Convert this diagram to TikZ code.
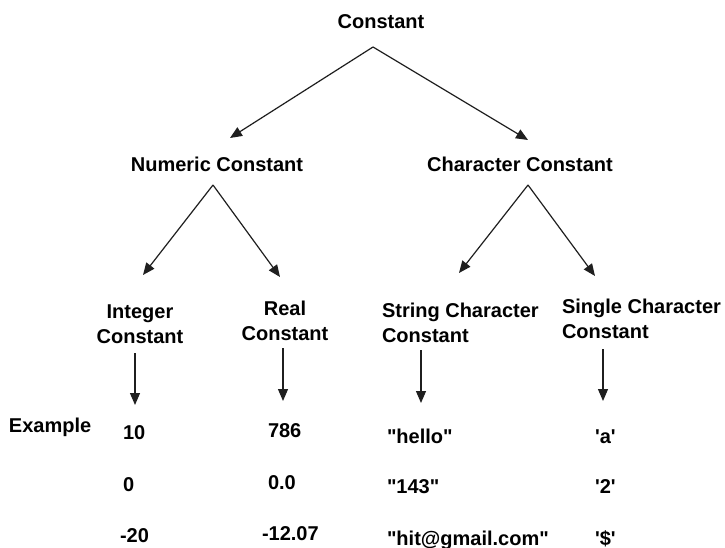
\documentclass[tikz,border=0pt]{standalone}
\usepackage{fontspec}
\setmainfont{Liberation Sans}
\usetikzlibrary{arrows.meta}
\begin{document}
\begin{tikzpicture}[x=1pt,y=-1pt,
  lbl/.style={font=\bfseries\fontsize{20}{25}\selectfont, inner sep=0pt, outer sep=0pt},
  head/.style={lbl, anchor=base},
  sub/.style={lbl, anchor=north},
  val/.style={lbl, anchor=base west},
  link/.style={line width=1.2pt, draw=black!88,
    -{Triangle[length=12pt,width=10pt]}},
]
\useasboundingbox (0,0) rectangle (725,548);

% tree headings
\node[head] (root) at (381,29) {Constant};
\node[head] (num)  at (217,172) {Numeric Constant};
\node[head] (chr)  at (520,172) {Character Constant};

\node[sub, align=center] (int)  at (140,305) {Integer\\Constant};
\node[sub, align=center] (real) at (285,301) {Real\\Constant};
\node[sub, align=left, anchor=north west] (str) at (382,303) {String Character\\Constant};
\node[sub, align=left, anchor=north west] (sgl) at (562,299) {Single Character\\Constant};

% fork points and arrow tips
\coordinate (rootfork) at (373,47);
\coordinate (numtip)   at (230,138);
\coordinate (chrtip)   at (528,140);
\coordinate (numfork)  at (213,185);
\coordinate (inttip)   at (143,275);
\coordinate (realtip)  at (280,277);
\coordinate (chrfork)  at (528,185);
\coordinate (strtip)   at (459,273);
\coordinate (sgltip)   at (595,276);

\draw[link] (rootfork) -- (numtip);
\draw[link] (rootfork) -- (chrtip);
\draw[link] (numfork) -- (inttip);
\draw[link] (numfork) -- (realtip);
\draw[link] (chrfork) -- (strtip);
\draw[link] (chrfork) -- (sgltip);

% vertical arrows down to the examples
\coordinate (intdown)  at (135,353);
\coordinate (intend)   at (135,405);
\coordinate (realdown) at (283,348);
\coordinate (realend)  at (283,401);
\coordinate (strdown)  at (421,350);
\coordinate (strend)   at (421,403);
\coordinate (sgldown)  at (603,349);
\coordinate (sglend)   at (603,401);

\draw[link] (intdown) -- (intend);
\draw[link] (realdown) -- (realend);
\draw[link] (strdown) -- (strend);
\draw[link] (sgldown) -- (sglend);

% examples
\node[val] (ex) at (9,432) {Example};

\node[val] (i1) at (123,439) {10};
\node[val] (i2) at (123,491) {0};
\node[val] (i3) at (120,542) {-20};

\node[val] (r1) at (268,437) {786};
\node[val] (r2) at (268,489) {0.0};
\node[val] (r3) at (262,540) {-12.07};

\node[val] (s1) at (387,443) {\textquotedbl hello\textquotedbl};
\node[val] (s2) at (387,493) {\textquotedbl 143\textquotedbl};
\node[val] (s3) at (387,545) {\textquotedbl hit@gmail.com\textquotedbl};

\node[val] (c1) at (595,443) {\textquotesingle a\textquotesingle};
\node[val] (c2) at (595,493) {\textquotesingle 2\textquotesingle};
\node[val] (c3) at (595,545) {\textquotesingle\$\textquotesingle};
\end{tikzpicture}
\end{document}
